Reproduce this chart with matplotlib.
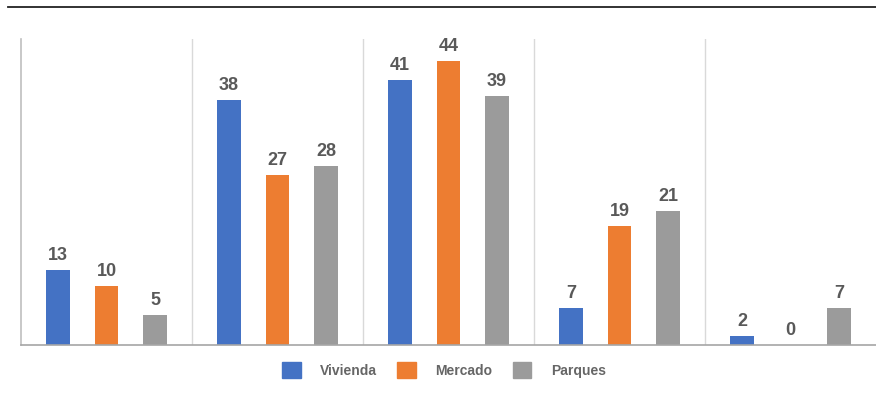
import matplotlib.pyplot as plt
import numpy as np
from matplotlib.lines import Line2D
from matplotlib.patches import Patch

# datos: etiquetas mostradas y alturas de barra
grupos = ["G1", "G2", "G3", "G4", "G5"]
vivienda_etq = [13, 38, 41, 7, 2]
mercado_etq = [10, 27, 44, 19, 0]
parques_etq = [5, 28, 39, 21, 7]
vivienda_alt = [11.55, 38.0, 41.0, 5.78, 1.4]
mercado_alt = [9.07, 26.36, 44.0, 18.45, 0]
parques_alt = [4.57, 27.75, 38.5, 20.8, 5.78]

series = [("Vivienda", vivienda_alt, vivienda_etq, "#4472C4"),
          ("Mercado", mercado_alt, mercado_etq, "#ED7D31"),
          ("Parques", parques_alt, parques_etq, "#9B9B9B")]

plt.rcParams["font.family"] = ["Liberation Sans", "DejaVu Sans"]

fig = plt.figure(figsize=(8.76, 3.98), dpi=100)
ax = fig.add_axes([21 / 876, 1 - 345 / 398, 1 - 21 / 876, (345 - 39) / 398])

x = np.arange(len(grupos))
ancho = 0.14
paso = 0.284
for i, (nombre, alturas, etiquetas, color) in enumerate(series):
    pos = x + (i - 1) * paso
    ax.bar(pos, alturas, width=ancho, color=color, label=nombre, zorder=2)
    for px, h, e in zip(pos, alturas, etiquetas):
        ax.annotate(str(e), (px, h), xytext=(0, 7.2), textcoords="offset points",
                    ha="center", va="baseline", fontsize=13, fontweight="bold",
                    color="#595959")

ax.set_xlim(-0.5, len(grupos) - 0.5)
ax.set_ylim(0, 47.4)

# separadores entre grupos
for s in np.arange(0.5, len(grupos) - 0.5, 1):
    ax.axvline(s, color="#D9D9D9", lw=1, zorder=1)

for lado in ["top", "right"]:
    ax.spines[lado].set_visible(False)
ax.spines["left"].set_color("#BFBFBF")
ax.spines["bottom"].set_color("#A6A6A6")
ax.spines["left"].set_linewidth(1.2)
ax.spines["bottom"].set_linewidth(1.2)
ax.set_xticks([])
ax.set_yticks([])

# linea superior
fig.add_artist(Line2D([8 / 876, 1.0], [1 - 7 / 398, 1 - 7 / 398],
                      color="#222222", lw=1.3))

handles = [Patch(color=c) for _, _, _, c in series]
fig.legend(handles, [n for n, _, _, _ in series], loc="center",
           bbox_to_anchor=(444 / 876, 1 - 370 / 398), ncol=3, frameon=False,
           prop={"size": 10, "weight": "bold"}, labelcolor="#666666",
           handlelength=1.35, handleheight=1.35, columnspacing=1.45,
           handletextpad=1.4)

plt.savefig("out.png", dpi=100)
